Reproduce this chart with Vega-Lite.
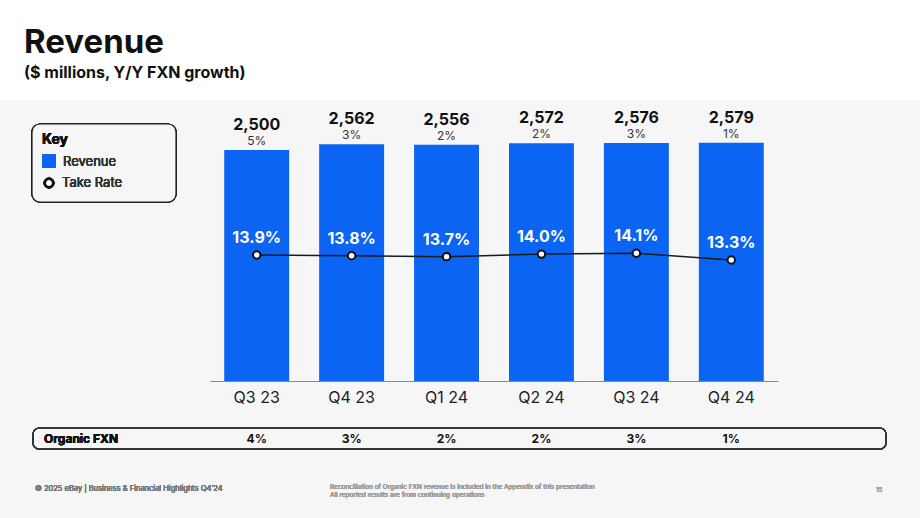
{
  "$schema": "https://vega.github.io/schema/vega-lite/v6.json",
  "width": 920,
  "height": 418,
  "autosize": {"type": "none"},
  "padding": {"top": 100, "left": 0, "right": 0, "bottom": 0},
  "background": "#ffffff",
  "view": {"fill": "#f6f6f6", "stroke": null},
  "config": {"font": "Inter"},
  "title": {
    "text": "Revenue",
    "subtitle": "($ millions, Y/Y FXN growth)",
    "anchor": "start",
    "frame": "group",
    "dx": 24,
    "offset": 19,
    "font": "Inter",
    "fontSize": 33,
    "fontWeight": 700,
    "color": "#111111",
    "subtitleFont": "Inter",
    "subtitleFontSize": 16,
    "subtitleFontWeight": 700,
    "subtitleColor": "#111111",
    "subtitlePadding": 5
  },
  "data": {
    "values": [
      {"quarter": "Q3 23", "revenue": 2500, "growth": "5%", "take_rate": 13.9, "organic_fxn": "4%"},
      {"quarter": "Q4 23", "revenue": 2562, "growth": "3%", "take_rate": 13.8, "organic_fxn": "3%"},
      {"quarter": "Q1 24", "revenue": 2556, "growth": "2%", "take_rate": 13.7, "organic_fxn": "2%"},
      {"quarter": "Q2 24", "revenue": 2572, "growth": "2%", "take_rate": 14.0, "organic_fxn": "2%"},
      {"quarter": "Q3 24", "revenue": 2576, "growth": "3%", "take_rate": 14.1, "organic_fxn": "3%"},
      {"quarter": "Q4 24", "revenue": 2579, "growth": "1%", "take_rate": 13.3, "organic_fxn": "1%"}
    ]
  },
  "layer": [
    {
      "encoding": {
        "x": {
          "field": "quarter",
          "type": "nominal",
          "sort": null,
          "scale": {"range": [210, 778], "paddingInner": 0.316, "paddingOuter": 0.15},
          "axis": {
            "title": null,
            "orient": "bottom",
            "offset": -137,
            "labelAngle": 0,
            "ticks": false,
            "domainColor": "#8a8a8a",
            "domainWidth": 1,
            "labelPadding": 8,
            "labelFont": "Inter",
            "labelFontSize": 16,
            "labelColor": "#1e1e1e"
          }
        },
        "y": {
          "field": "revenue",
          "type": "quantitative",
          "scale": {"domain": [-1483, 3041], "nice": false, "zero": false},
          "axis": null
        }
      },
      "layer": [
        {
          "mark": {"type": "bar", "color": "#0b64f2"},
          "encoding": {"y2": {"datum": 0}}
        },
        {
          "mark": {"type": "text", "dy": -25, "fontSize": 16, "fontWeight": 700, "color": "#111111", "baseline": "middle"},
          "encoding": {"text": {"field": "revenue", "type": "quantitative", "format": ",.0f"}}
        },
        {
          "mark": {"type": "text", "dy": -9, "fontSize": 12, "fontWeight": 400, "color": "#333333", "baseline": "middle"},
          "encoding": {"text": {"field": "growth"}}
        },
        {
          "mark": {"type": "text", "baseline": "middle", "fontSize": 12, "fontWeight": 700, "color": "#111111"},
          "encoding": {"y": {"value": 339}, "text": {"field": "organic_fxn"}}
        }
      ]
    },
    {
      "encoding": {
        "x": {"field": "quarter", "type": "nominal", "sort": null},
        "y": {
          "field": "take_rate",
          "type": "quantitative",
          "scale": {"domain": [-17.05, 32.13], "nice": false, "zero": false},
          "axis": null
        }
      },
      "layer": [
        {
          "mark": {"type": "line", "color": "#1a1a1a", "strokeWidth": 1.5}
        },
        {
          "mark": {"type": "point", "filled": true, "fill": "#ffffff", "stroke": "#111111", "strokeWidth": 2, "size": 55, "opacity": 1}
        },
        {
          "mark": {"type": "text", "dy": -17, "fontSize": 16, "fontWeight": 700, "color": "#ffffff", "baseline": "middle", "text": {"expr": "format(datum.take_rate, '.1f') + '%'"}}
        }
      ]
    },
    {
      "mark": {"type": "rect", "fill": "#f6f6f6", "stroke": "#222222", "strokeWidth": 1.2, "cornerRadius": 8},
      "encoding": {"x": {"value": 32}, "x2": {"value": 176}, "y": {"value": 24}, "y2": {"value": 102}}
    },
    {
      "mark": {"type": "text", "align": "left", "baseline": "middle", "fontSize": 14, "fontWeight": 700, "color": "#111111"},
      "encoding": {"x": {"value": 42}, "y": {"value": 40}, "text": {"value": "Key"}}
    },
    {
      "mark": {"type": "rect", "fill": "#0b64f2", "cornerRadius": 2},
      "encoding": {"x": {"value": 42}, "x2": {"value": 56}, "y": {"value": 54}, "y2": {"value": 68}}
    },
    {
      "mark": {"type": "text", "align": "left", "baseline": "middle", "fontSize": 13, "fontWeight": 400, "color": "#333333"},
      "encoding": {"x": {"value": 63}, "y": {"value": 61.5}, "text": {"value": "Revenue"}}
    },
    {
      "mark": {"type": "point", "shape": "circle", "filled": true, "fill": "#ffffff", "stroke": "#111111", "strokeWidth": 2.5, "size": 70, "opacity": 1},
      "encoding": {"x": {"value": 49}, "y": {"value": 83}}
    },
    {
      "mark": {"type": "text", "align": "left", "baseline": "middle", "fontSize": 13, "fontWeight": 400, "color": "#333333"},
      "encoding": {"x": {"value": 62}, "y": {"value": 83}, "text": {"value": "Take Rate"}}
    },
    {
      "mark": {"type": "rect", "fill": null, "stroke": "#333333", "strokeWidth": 1.2, "cornerRadius": 6},
      "encoding": {"x": {"value": 33}, "x2": {"value": 886}, "y": {"value": 328}, "y2": {"value": 349}}
    },
    {
      "mark": {"type": "text", "align": "left", "baseline": "middle", "fontSize": 12, "fontWeight": 700, "color": "#111111"},
      "encoding": {"x": {"value": 44}, "y": {"value": 339}, "text": {"value": "Organic FXN"}}
    },
    {
      "mark": {"type": "text", "align": "left", "baseline": "middle", "fontSize": 7.5, "fontWeight": 400, "color": "#777777"},
      "encoding": {"x": {"value": 35}, "y": {"value": 389}, "text": {"value": "© 2025 eBay | Business & Financial Highlights Q4’24"}}
    },
    {
      "mark": {"type": "text", "align": "left", "baseline": "middle", "fontSize": 6.5, "fontWeight": 400, "color": "#a0a0a0"},
      "encoding": {"x": {"value": 330}, "y": {"value": 386.5}, "text": {"value": "Reconciliation of Organic FXN revenue is included in the Appendix of this presentation"}}
    },
    {
      "mark": {"type": "text", "align": "left", "baseline": "middle", "fontSize": 6.5, "fontWeight": 400, "color": "#a0a0a0"},
      "encoding": {"x": {"value": 330}, "y": {"value": 394.5}, "text": {"value": "All reported results are from continuing operations"}}
    },
    {
      "mark": {"type": "text", "align": "left", "baseline": "middle", "fontSize": 6, "fontWeight": 400, "color": "#a0a0a0"},
      "encoding": {"x": {"value": 876}, "y": {"value": 389.5}, "text": {"value": "15"}}
    }
  ],
  "resolve": {"scale": {"y": "independent"}}
}
